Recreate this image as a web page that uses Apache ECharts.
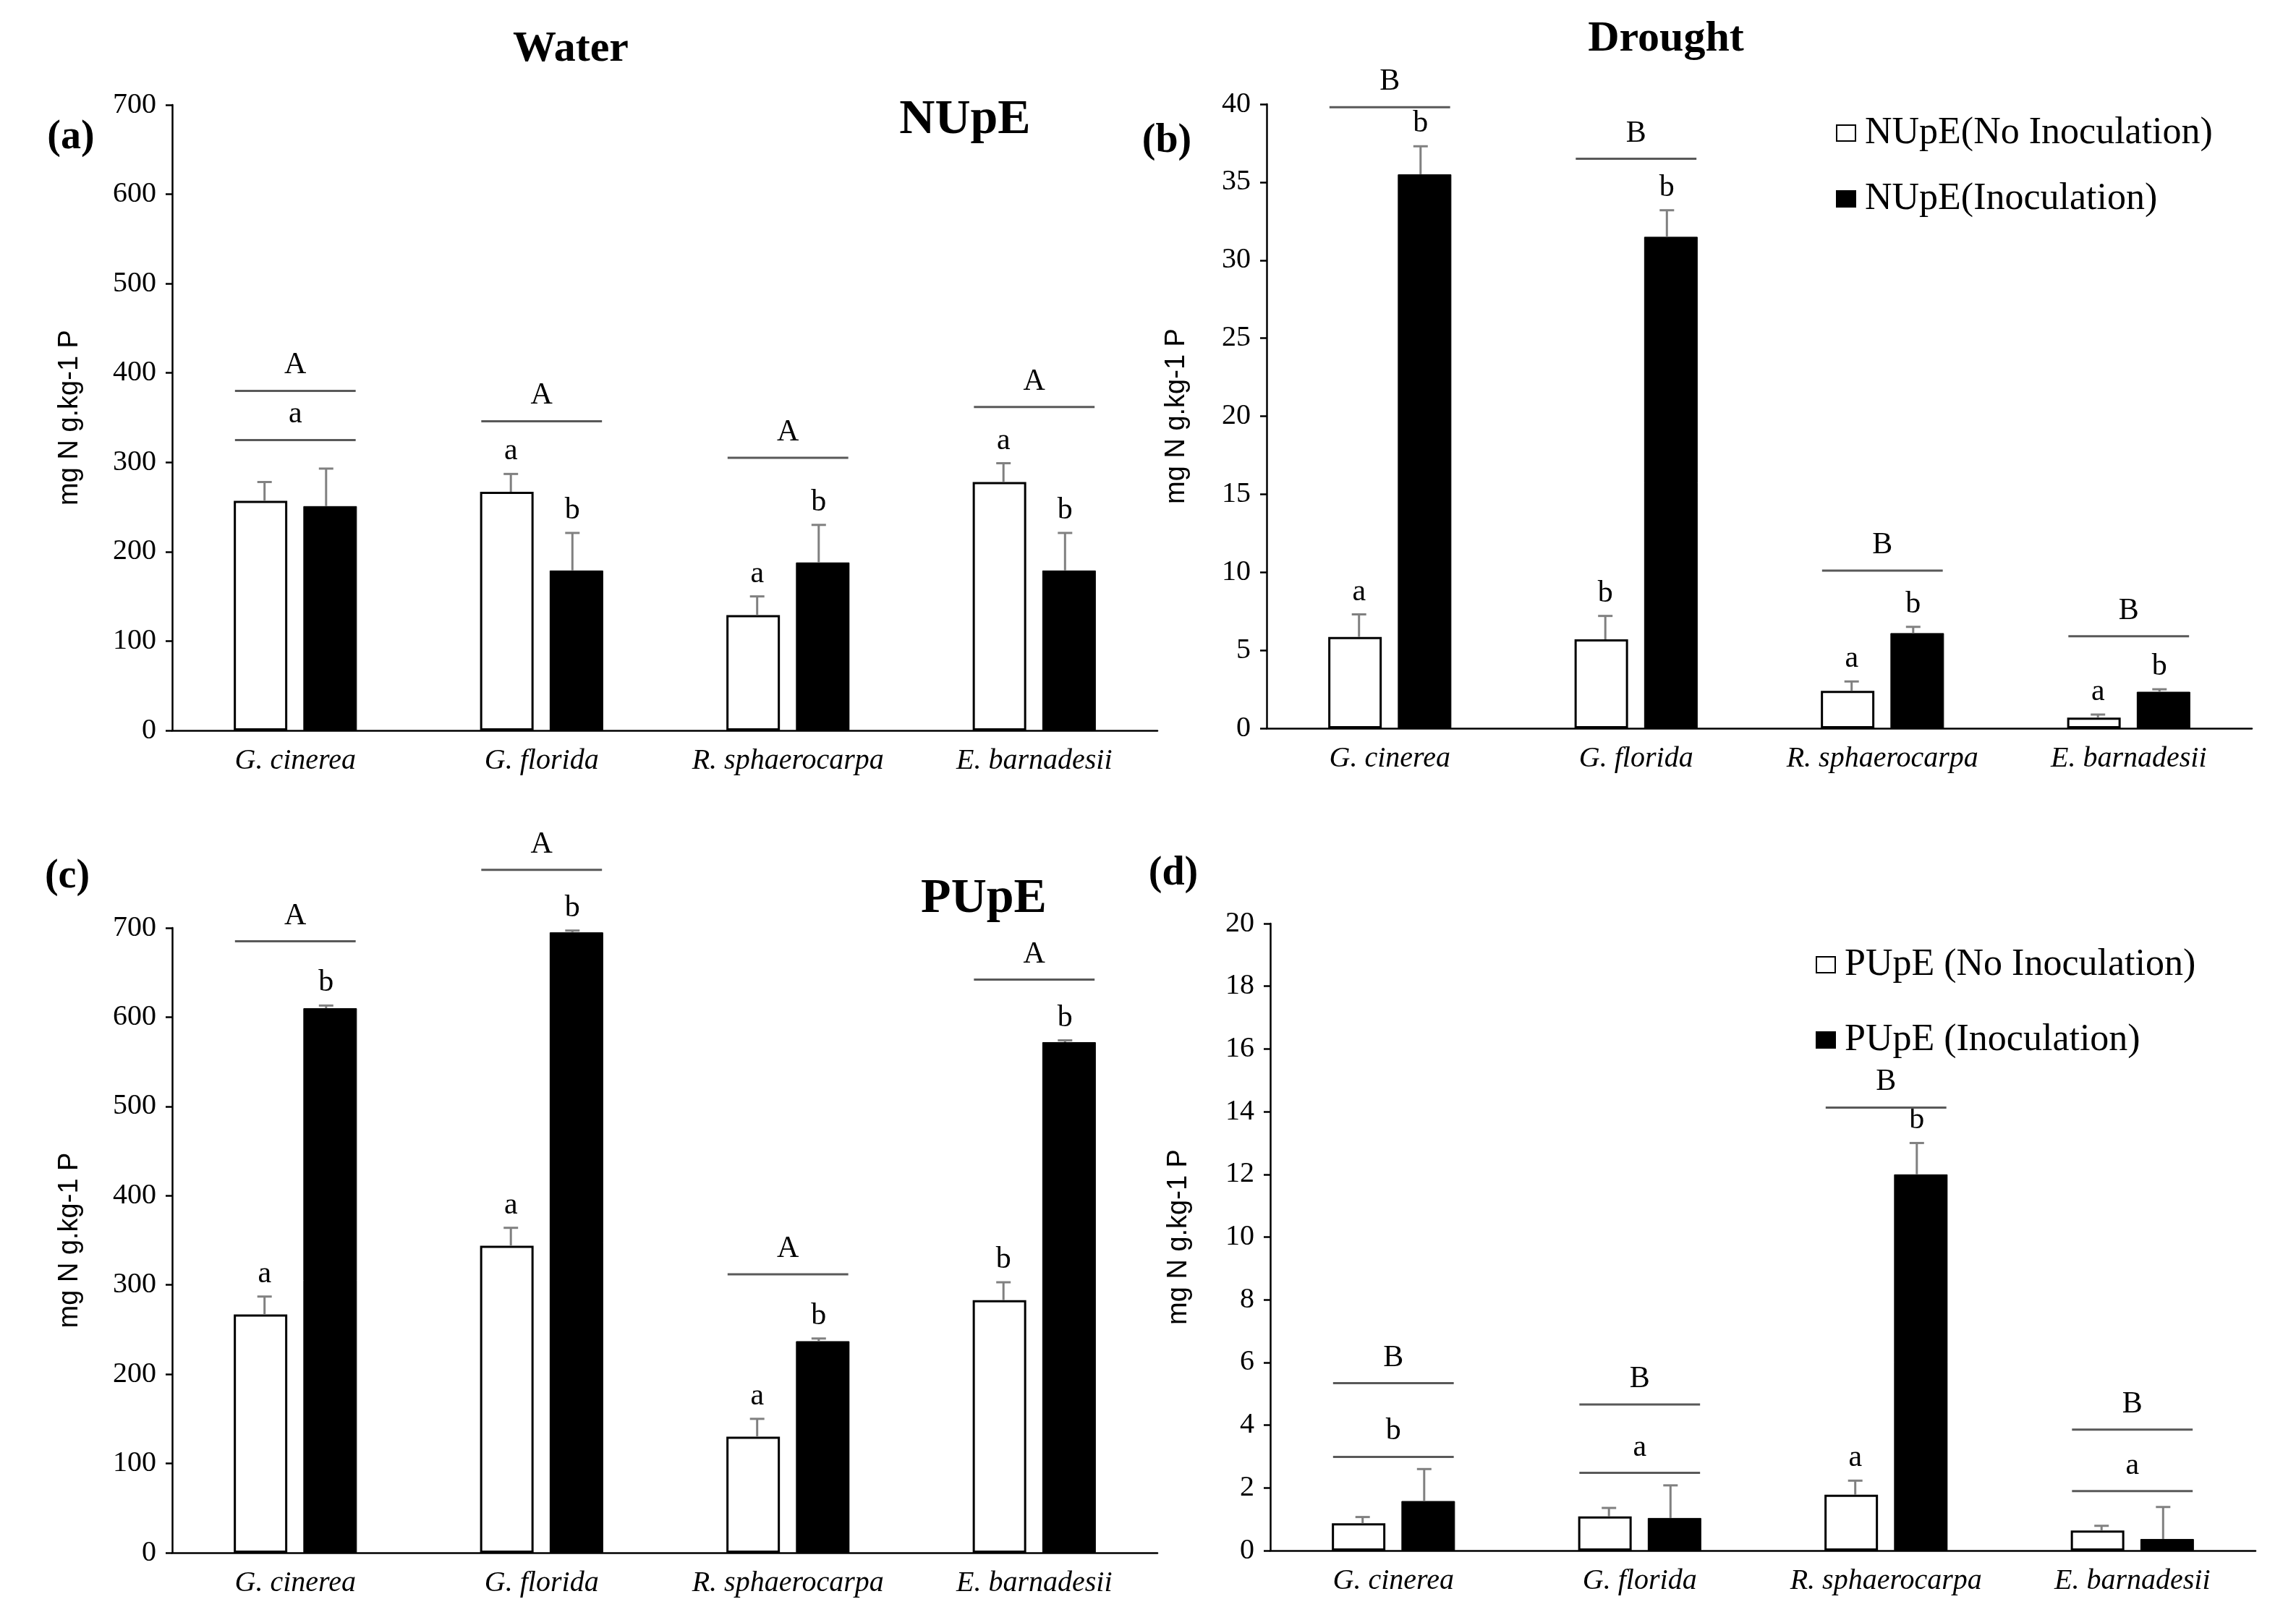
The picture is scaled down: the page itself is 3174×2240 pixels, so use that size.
<!DOCTYPE html>
<html>
<head>
<meta charset="utf-8">
<script src="https://cdn.jsdelivr.net/npm/echarts@6/dist/echarts.min.js"></script>
<style>
  html, body { margin: 0; background: #fff; }
  #chart { width: 3174px; height: 2240px; }
</style>
</head>
<body>
<div id="chart"></div>
<script>
const species = ['G. cinerea', 'G. florida', 'R. sphaerocarpa', 'E. barnadesii'];

// (a) NUpE under water
const aNoInoc = [257, 267, 129, 278];
const aNoInocErr = [21, 20, 21, 21];
const aInoc = [251, 179, 188, 179];
const aInocErr = [42, 42, 42, 42];
const aGroupY = [380, 346, 305, 362];
const aGroupTxt = ['A', 'A', 'A', 'A'];
const aPairY = [325, null, null, null];
const aPairTxt = ['a', null, null, null];
const aNoInocLetter = [null, 'a', 'a', 'a'];
const aInocLetter = [null, 'b', 'b', 'b'];

// (b) NUpE under drought
const bNoInoc = [5.85, 5.7, 2.4, 0.68];
const bNoInocErr = [1.45, 1.5, 0.6, 0.2];
const bInoc = [35.5, 31.5, 6.1, 2.34];
const bInocErr = [1.8, 1.7, 0.4, 0.16];
const bGroupY = [39.8, 36.5, 10.1, 5.9];
const bGroupTxt = ['B', 'B', 'B', 'B'];
const bPairY = [null, null, null, null];
const bPairTxt = [null, null, null, null];
const bNoInocLetter = ['a', 'b', 'a', 'a'];
const bInocLetter = ['b', 'b', 'b', 'b'];

// (c) PUpE under water
const cNoInoc = [267, 344, 130, 283];
const cNoInocErr = [20, 20, 20, 20];
const cInoc = [610, 695, 237, 572];
const cInocErr = [3, 2, 3, 2];
const cGroupY = [685, 765, 312, 642];
const cGroupTxt = ['A', 'A', 'A', 'A'];
const cPairY = [null, null, null, null];
const cPairTxt = [null, null, null, null];
const cNoInocLetter = ['a', 'a', 'a', 'b'];
const cInocLetter = ['b', 'b', 'b', 'b'];

// (d) PUpE under drought
const dNoInoc = [0.87, 1.09, 1.78, 0.64];
const dNoInocErr = [0.2, 0.27, 0.45, 0.15];
const dInoc = [1.58, 1.04, 12.0, 0.37];
const dInocErr = [1.02, 1.04, 1.0, 1.02];
const dGroupY = [5.34, 4.66, 14.13, 3.86];
const dGroupTxt = ['B', 'B', 'B', 'B'];
const dPairY = [2.99, 2.48, null, 1.90];
const dPairTxt = ['b', 'a', null, 'a'];
const dNoInocLetter = [null, null, 'a', null];
const dInocLetter = [null, null, 'b', null];

const serif = 'Liberation Serif, Times New Roman, serif';
const sans = 'Liberation Sans, Arial, sans-serif';
const barW = 74;
const barShift = (barW * 2 + barW * 0.3) / 4; // centre of each bar from category centre

const chart = echarts.init(document.getElementById('chart'));

function xAxis(gi) {
  return {
    type: 'category', gridIndex: gi, data: species,
    axisLine: { lineStyle: { color: '#000', width: 2.5 } },
    axisTick: { show: false },
    axisLabel: { interval: 0, fontFamily: serif, fontStyle: 'italic', fontSize: 40, color: '#000', margin: 22 },
    splitLine: { show: false }
  };
}

function yAxis(gi, max, interval, nameGap) {
  return {
    type: 'value', gridIndex: gi, min: 0, max: max, interval: interval,
    name: 'mg N g.kg-1 P', nameLocation: 'middle', nameGap: nameGap,
    nameTextStyle: { fontFamily: sans, fontSize: 38, color: '#000' },
    axisLine: { show: true, lineStyle: { color: '#000', width: 2.5 } },
    axisTick: { show: true, length: 9, lineStyle: { color: '#000', width: 2.5 } },
    axisLabel: { fontFamily: serif, fontSize: 40, color: '#000', margin: 22 },
    splitLine: { show: false }
  };
}

function letterText(x, y, txt) {
  return {
    type: 'text', x: x, y: y,
    style: { text: txt, fontFamily: serif, fontSize: 42, fill: '#000', align: 'center', verticalAlign: 'bottom' }
  };
}

function panelSeries(gi, names, noInoc, noErr, inoc, inErr, groupY, groupTxt, pairY, pairTxt, noLet, inLet) {
  const idx = species.map((s, i) => [i]);
  return [
    {
      name: names[0], type: 'bar', xAxisIndex: gi, yAxisIndex: gi, data: noInoc,
      barWidth: barW, barGap: '30%',
      itemStyle: { color: '#fff', borderColor: '#000', borderWidth: 3 }
    },
    {
      name: names[1], type: 'bar', xAxisIndex: gi, yAxisIndex: gi, data: inoc,
      barWidth: barW, barGap: '30%',
      itemStyle: { color: '#000', borderColor: '#000', borderWidth: 1 }
    },
    {
      // error bars (upper only) and letters above bars
      type: 'custom', xAxisIndex: gi, yAxisIndex: gi, data: idx, z: 5, clip: false,
      renderItem: function (params, api) {
        const i = params.dataIndex;
        const children = [];
        const pairs = [[noInoc[i], noErr[i], -barShift, noLet[i]], [inoc[i], inErr[i], barShift, inLet[i]]];
        pairs.forEach(function (p) {
          const base = api.coord([i, p[0]]);
          const top = api.coord([i, p[0] + p[1]]);
          const x = base[0] + p[2];
          children.push({ type: 'line', shape: { x1: x, y1: base[1], x2: x, y2: top[1] }, style: { stroke: '#808080', lineWidth: 3 } });
          children.push({ type: 'line', shape: { x1: x - 10, y1: top[1], x2: x + 10, y2: top[1] }, style: { stroke: '#808080', lineWidth: 3 } });
          if (p[3]) children.push(letterText(x, top[1] - 10, p[3]));
        });
        return { type: 'group', children: children };
      }
    },
    {
      // significance lines
      type: 'custom', xAxisIndex: gi, yAxisIndex: gi, data: idx, z: 5, clip: false,
      renderItem: function (params, api) {
        const i = params.dataIndex;
        const half = api.size([1, 0])[0] * 0.245;
        const children = [];
        [[groupY[i], groupTxt[i]], [pairY[i], pairTxt[i]]].forEach(function (g) {
          if (g[0] == null) return;
          const c = api.coord([i, g[0]]);
          children.push({ type: 'line', shape: { x1: c[0] - half, y1: c[1], x2: c[0] + half, y2: c[1] }, style: { stroke: '#595959', lineWidth: 3 } });
          children.push(letterText(c[0], c[1] - 14, g[1]));
        });
        return { type: 'group', children: children };
      }
    }
  ];
}

const nNames = ['NUpE(No Inoculation)', 'NUpE(Inoculation)'];
const pNames = ['PUpE (No Inoculation)', 'PUpE (Inoculation)'];

function bigText(x, y, txt, size, weight) {
  return {
    type: 'text', x: x, y: y,
    style: { text: txt, fontFamily: serif, fontSize: size, fontWeight: weight, fill: '#000', align: 'center', verticalAlign: 'middle' }
  };
}

function legend(names, left, top, gap) {
  return {
    data: names, orient: 'vertical', left: left, top: top, padding: 0,
    itemWidth: 26, itemHeight: 22, itemGap: gap, icon: 'rect',
    textStyle: { fontFamily: serif, fontSize: 52, color: '#000', lineHeight: 56, padding: [0, 0, 0, 8] }
  };
}

chart.setOption({
  animation: false,
  backgroundColor: '#fff',
  grid: [
    { left: 238, top: 145, width: 1362, height: 865 },
    { left: 1751, top: 144, width: 1362, height: 863 },
    { left: 238, top: 1283, width: 1362, height: 864 },
    { left: 1756, top: 1277, width: 1362, height: 867 }
  ],
  xAxis: [xAxis(0), xAxis(1), xAxis(2), xAxis(3)],
  yAxis: [yAxis(0, 700, 100, 122), yAxis(1, 40, 5, 105), yAxis(2, 700, 100, 122), yAxis(3, 20, 2, 107)],
  legend: [legend(nNames, 2538, 156, 35), legend(pNames, 2510, 1306, 48)],
  graphic: [
    bigText(789, 68, 'Water', 60, 'bold'),
    bigText(2303, 54, 'Drought', 60, 'bold'),
    bigText(1334, 166, 'NUpE', 68, 'bold'),
    bigText(1360, 1243, 'PUpE', 68, 'bold'),
    bigText(98, 191, '(a)', 56, 'bold'),
    bigText(1613, 196, '(b)', 56, 'bold'),
    bigText(93, 1213, '(c)', 56, 'bold'),
    bigText(1622, 1209, '(d)', 56, 'bold')
  ],
  series: [].concat(
    panelSeries(0, nNames, aNoInoc, aNoInocErr, aInoc, aInocErr, aGroupY, aGroupTxt, aPairY, aPairTxt, aNoInocLetter, aInocLetter),
    panelSeries(1, nNames, bNoInoc, bNoInocErr, bInoc, bInocErr, bGroupY, bGroupTxt, bPairY, bPairTxt, bNoInocLetter, bInocLetter),
    panelSeries(2, pNames, cNoInoc, cNoInocErr, cInoc, cInocErr, cGroupY, cGroupTxt, cPairY, cPairTxt, cNoInocLetter, cInocLetter),
    panelSeries(3, pNames, dNoInoc, dNoInocErr, dInoc, dInocErr, dGroupY, dGroupTxt, dPairY, dPairTxt, dNoInocLetter, dInocLetter)
  )
});
</script>
</body>
</html>
